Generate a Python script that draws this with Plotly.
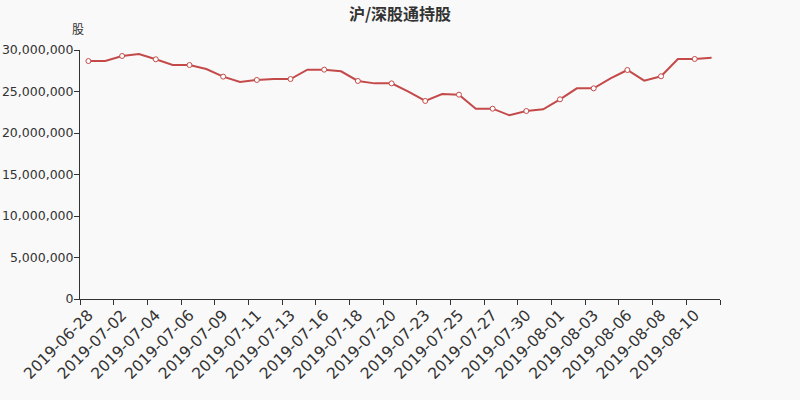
import plotly.graph_objects as go

dates = ["2019-06-28","2019-07-01","2019-07-02","2019-07-03","2019-07-04","2019-07-05",
         "2019-07-06","2019-07-08","2019-07-09","2019-07-10","2019-07-11","2019-07-12",
         "2019-07-13","2019-07-15","2019-07-16","2019-07-17","2019-07-18","2019-07-19",
         "2019-07-20","2019-07-22","2019-07-23","2019-07-24","2019-07-25","2019-07-26",
         "2019-07-27","2019-07-29","2019-07-30","2019-07-31","2019-08-01","2019-08-02",
         "2019-08-03","2019-08-05","2019-08-06","2019-08-07","2019-08-08","2019-08-09",
         "2019-08-10","2019-08-12"]
holdings = [28670000,28670000,29280000,29520000,28880000,28190000,
            28190000,27710000,26790000,26140000,26390000,26500000,
            26500000,27630000,27630000,27430000,26270000,25980000,
            25980000,24980000,23860000,24700000,24620000,22930000,
            22930000,22130000,22650000,22850000,24060000,25380000,
            25380000,26590000,27590000,26310000,26830000,28920000,
            28920000,29080000]
y_ticks = [0,5000000,10000000,15000000,20000000,25000000,30000000]

idx = list(range(len(dates)))
label_idx = idx[::2]
line_color = "#c44a4a"

fig = go.Figure()
fig.add_trace(go.Scatter(
    x=idx, y=holdings, mode="lines",
    line=dict(color=line_color, width=2), hoverinfo="skip", showlegend=False))
fig.add_trace(go.Scatter(
    x=label_idx, y=[holdings[i] for i in label_idx], mode="markers",
    marker=dict(symbol="circle", size=5, color="white",
                line=dict(color=line_color, width=1)),
    showlegend=False))
# boundary ticks
fig.add_trace(go.Scatter(x=[-0.5], y=[None], xaxis="x2", showlegend=False))

fig.update_layout(
    width=800, height=400,
    paper_bgcolor="#f9f9f9", plot_bgcolor="#f9f9f9",
    margin=dict(l=80, r=80, t=50, b=101),
    font=dict(family="DejaVu Sans, Noto Sans CJK SC", color="#333333"),
    title=dict(text="<b>沪/深股通持股</b>", x=0.5, xanchor="center", y=1 - 14 / 400,
               yanchor="middle", yref="container",
               font=dict(size=16, color="#333333", family="Noto Sans CJK SC")),
    xaxis=dict(range=[-0.5, len(dates) - 0.5], tickmode="array", tickvals=label_idx,
               ticktext=[dates[i] for i in label_idx], tickangle=-45, automargin=False,
               ticks="", showgrid=False, zeroline=False, showline=True,
               linecolor="#333333", linewidth=1, tickfont=dict(size=15.5, color="#333333")),
    xaxis2=dict(overlaying="x", matches="x", range=[-0.5, len(dates) - 0.5],
                tickmode="array", tickvals=[i - 0.5 for i in idx[::2]] + [len(dates) - 0.5],
                ticks="outside", ticklen=5, tickcolor="#333333", showticklabels=False,
                automargin=False, showgrid=False, zeroline=False, side="bottom", anchor="y"),
    yaxis=dict(range=[0, 30000000], tickvals=y_ticks, tickformat=",d", automargin=False,
               ticks="outside", ticklen=5, tickcolor="#333333", showgrid=False,
               zeroline=False, showline=True, linecolor="#333333", linewidth=1,
               ticklabelstandoff=-2,
               tickfont=dict(size=12.5, color="#333333")),
    annotations=[dict(text="股", x=-0.003, y=1.088, xref="paper", yref="paper",
                      xanchor="center", yanchor="middle",
                      showarrow=False, font=dict(size=12, color="#333333",
                      family="Noto Sans CJK SC"))],
)

fig.write_html("out.html", config={"displayModeBar": False},
               post_script="document.body.style.margin='0';document.body.style.background='#f9f9f9';")
